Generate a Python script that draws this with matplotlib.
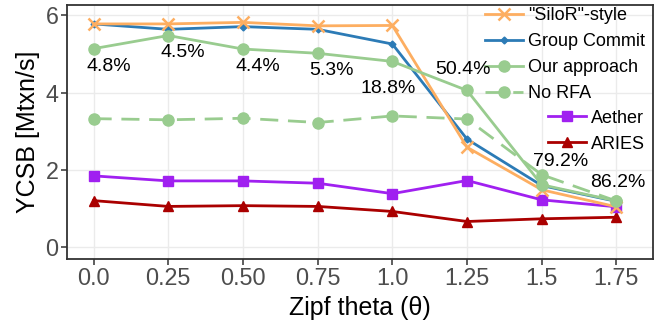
"""
YCSB throughput vs. Zipf theta, ggplot-like look with matplotlib.
"""

import matplotlib
matplotlib.use("Agg")
import matplotlib.pyplot as plt


# ================================================================
# DATA
# ================================================================

theta_labels = ["0.0", "0.25", "0.50", "0.75", "1.0", "1.25", "1.5", "1.75"]

silor = [5.78, 5.78, 5.82, 5.73, 5.74, 2.59, 1.49, 1.05]
group_commit = [5.78, 5.64, 5.71, 5.64, 5.26, 2.80, 1.60, 1.19]
our_approach = [5.14, 5.48, 5.13, 5.02, 4.81, 4.06, 1.62, 1.20]
no_rfa = [3.33, 3.30, 3.34, 3.23, 3.40, 3.32, 1.88, 1.20]
aether = [1.85, 1.72, 1.72, 1.66, 1.39, 1.73, 1.23, 1.05]
aries = [1.21, 1.06, 1.08, 1.06, 0.93, 0.67, 0.74, 0.78]

pct_labels = ["4.8%", "4.5%", "4.4%", "5.3%", "18.8%", "50.4%", "79.2%", "86.2%"]

# label anchor points (x index, y value) for the percentage notes
pct_x = [0.20, 1.20, 2.20, 3.18, 3.94, 4.95, 6.25, 7.02]
pct_y = [4.67, 5.03, 4.67, 4.57, 4.10, 4.59, 2.21, 1.67]


# ================================================================
# PLOT
# ================================================================

def main():
    plt.rcParams["font.family"] = ["Liberation Sans", "DejaVu Sans"]

    fig = plt.figure(figsize=(6.62, 3.31), dpi=100)
    ax = fig.add_axes([0.1008, 0.2175, 0.8856, 0.7675])

    xs = list(range(len(theta_labels)))
    lw = 2.0

    h_aries, = ax.plot(xs, aries, color="#aa0000", lw=lw, marker="^", ms=7.5,
                       zorder=3)
    h_aether, = ax.plot(xs, aether, color="#a020f0", lw=lw, marker="s",
                        ms=6.5, zorder=3)
    h_norfa, = ax.plot(xs, no_rfa, color="#99cc8f", lw=lw, ls=(0, (6.5, 3.5)),
                       marker="o", ms=8, zorder=3)
    h_gc, = ax.plot(xs, group_commit, color="#2c7bb6", lw=lw, marker="D",
                    ms=3.5, zorder=4)
    h_silor, = ax.plot(xs, silor, color="#fdae61", lw=lw, marker="x", ms=8,
                       mew=1.8, zorder=5)
    h_our, = ax.plot(xs, our_approach, color="#99cc8f", lw=lw, marker="o",
                     ms=8, zorder=6)

    for x, y, s in zip(pct_x, pct_y, pct_labels):
        ax.text(x, y, s, fontsize=14, ha="center", va="center", zorder=7)

    ax.set_xlim(-0.36, 7.49)
    ax.set_ylim(-0.30, 6.27)
    ax.set_xticks(xs)
    ax.set_xticklabels(theta_labels)
    ax.set_yticks([0, 2, 4, 6])

    ax.grid(True, color="#ebebeb", lw=1.0)
    ax.set_axisbelow(True)
    for sp in ax.spines.values():
        sp.set_color("#333333")
        sp.set_linewidth(1.3)
    ax.tick_params(axis="both", colors="#333333", length=4, width=1.1,
                   labelsize=16.8, labelcolor="#4d4d4d", pad=2)

    ax.set_xlabel("Zipf theta (\u03b8)", fontsize=18, labelpad=4)
    ax.set_ylabel("YCSB [Mtxn/s]", fontsize=18, labelpad=4)

    # two stacked legends, as in the ggplot original
    leg_kw = dict(loc="upper right", frameon=False, fontsize=13,
                  handlelength=2.1, handletextpad=0.3, labelspacing=0.5,
                  borderaxespad=0.0, borderpad=0.2)
    leg1 = ax.legend([h_silor, h_gc, h_our, h_norfa],
                     ['"SiloR"-style', "Group Commit", "Our approach", "No RFA"],
                     bbox_to_anchor=(0.9925, 1.005), **leg_kw)
    ax.add_artist(leg1)
    ax.legend([h_aether, h_aries], ["Aether", "ARIES"],
              bbox_to_anchor=(0.9925, 0.602), **leg_kw)

    fig.savefig("out.png", dpi=100)
    plt.close(fig)


if __name__ == "__main__":
    main()
